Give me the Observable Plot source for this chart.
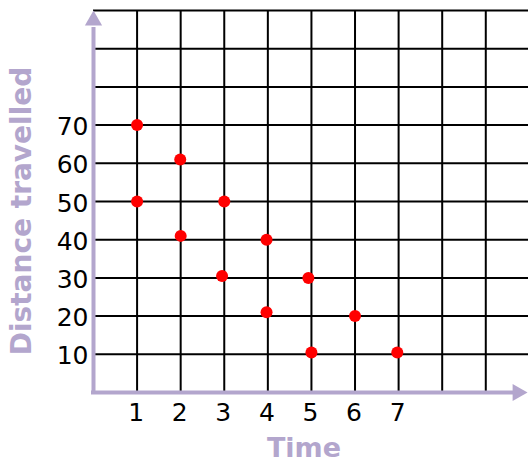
<!DOCTYPE html>
<html>
<head>
<meta charset="utf-8">
<script src="https://cdn.jsdelivr.net/npm/d3@7"></script>
<script src="https://cdn.jsdelivr.net/npm/@observablehq/plot@0.6"></script>
<style>
  html, body { margin: 0; padding: 0; background: #fff; }
</style>
</head>
<body>
<div id="chart"></div>
<script>
// Data
const times = [1, 1, 1.99, 2, 3, 2.95, 3.97, 3.97, 4.93, 5, 6, 6.97];
const distances = [70, 50, 61, 41, 50, 30.5, 40, 21, 30, 10.5, 20, 10.5];
const xTicks = [1, 2, 3, 4, 5, 6, 7];
const yTicks = [10, 20, 30, 40, 50, 60, 70];
const xGrid = [1, 2, 3, 4, 5, 6, 7, 8, 9];
const yGrid = [10, 20, 30, 40, 50, 60, 70, 80, 90, 100];
const xLabel = "Time";
const yLabel = "Distance travelled";

const points = times.map((t, i) => ({time: t, distance: distances[i]}));
const lav = "#b3a6cd";
const xMax = 9.98;

const chart = Plot.plot({
  width: 528,
  height: 460,
  marginLeft: 93,
  marginRight: 0,
  marginTop: 10,
  marginBottom: 68,
  x: {domain: [0, xMax], axis: null},
  y: {domain: [0, 100], axis: null},
  style: {fontFamily: "DejaVu Sans", background: "white", color: "black"},
  marks: [
    Plot.ruleY(yGrid, {x1: 0, x2: xMax, stroke: "black", strokeWidth: 2}),
    Plot.ruleX(xGrid, {y1: 0, y2: 100, stroke: "black", strokeWidth: 2}),
    // axes lines
    Plot.ruleX([0], {y1: 0, y2: 95, stroke: lav, strokeWidth: 4, strokeLinecap: "square"}),
    Plot.ruleY([0], {x1: 0, x2: 9.6, stroke: lav, strokeWidth: 4, strokeLinecap: "square"}),
    // arrow heads
    Plot.dot([0], {x: 0, y: 97.4, symbol: "triangle", r: 6.4, fill: lav, stroke: null}),
    Plot.dot([0], {x: 9.73, y: 0, symbol: "triangle", r: 6.4, fill: lav, stroke: null, rotate: 90}),
    // tick labels
    Plot.text(yTicks, {x: 0, y: d => d, text: d => String(d), textAnchor: "end", dx: -5, dy: 2, fontSize: 25, fill: "black"}),
    Plot.text(xTicks, {x: d => d, y: 0, text: d => String(d), lineAnchor: "top", dy: 11, dx: -1, fontSize: 25, fill: "black"}),
    // axis titles
    Plot.text([xLabel], {frameAnchor: "bottom", text: d => d, textAnchor: "middle", lineAnchor: "middle", dx: -7, dy: 56, fontSize: 27, fontWeight: "bold", fill: lav}),
    Plot.text([yLabel], {frameAnchor: "left", text: d => d, rotate: -90, textAnchor: "middle", lineAnchor: "middle", dx: -71, dy: 9.5, fontSize: 28, fontWeight: "bold", fill: lav}),
    // data
    Plot.dot(points, {x: "time", y: "distance", r: 6, fill: "#ff0000", stroke: null})
  ]
});
document.getElementById("chart").append(chart);
</script>
</body>
</html>
